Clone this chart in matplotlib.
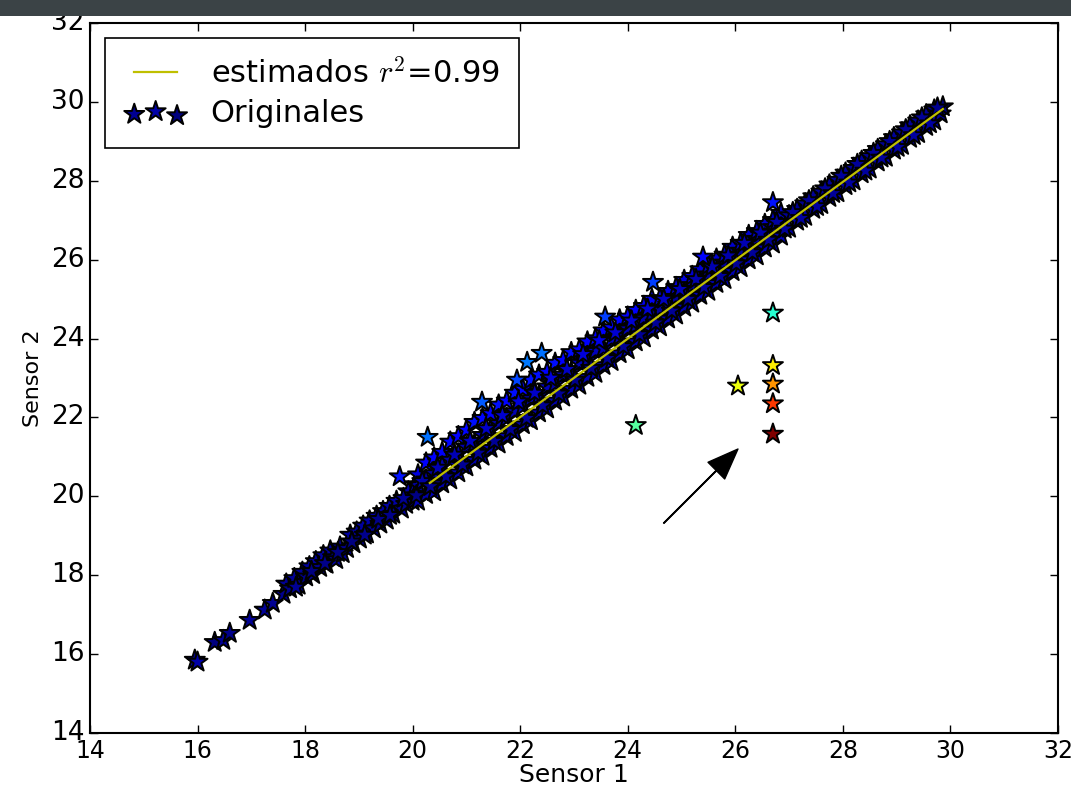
import numpy as np
import matplotlib
matplotlib.use("Agg")
from matplotlib import pyplot as plt
from matplotlib.patches import Rectangle

# lecturas de los dos sensores (mismo instante)
sensor_1 = [
    15.95, 16.00, 16.32, 16.48, 16.60, 16.97, 17.25, 17.40,
    17.60, 17.65, 17.72, 17.80, 17.88, 17.95, 18.02, 18.08, 18.15, 18.20,
    18.28, 18.34, 18.40, 18.47, 18.52, 18.58, 18.65, 18.70, 18.78, 18.84,
    18.90, 18.96, 19.02, 19.08, 19.15, 19.20, 19.28, 19.33, 19.40, 19.45,
    19.52, 19.57, 19.64, 19.70, 19.76, 19.80, 19.88, 19.92, 20.00, 20.05,
    20.10, 20.10, 20.10, 20.25, 20.25, 20.25, 20.40, 20.40, 20.40,
    20.55, 20.55, 20.55, 20.70, 20.70, 20.70, 20.85, 20.85, 20.85,
    21.00, 21.00, 21.00, 21.15, 21.15, 21.15, 21.30, 21.30, 21.30,
    21.45, 21.45, 21.45, 21.60, 21.60, 21.60, 21.75, 21.75, 21.75,
    21.90, 21.90, 21.90, 22.05, 22.05, 22.05, 22.20, 22.20, 22.20,
    22.35, 22.35, 22.35, 22.50, 22.50, 22.50, 22.65, 22.65, 22.65,
    22.80, 22.80, 22.80, 22.95, 22.95, 22.95, 23.10, 23.10, 23.10,
    23.25, 23.25, 23.25, 23.40, 23.40, 23.40, 23.55, 23.55, 23.55,
    23.70, 23.70, 23.70, 23.85, 23.85, 23.85, 24.00, 24.00, 24.00,
    24.15, 24.15, 24.15, 24.30, 24.30, 24.30, 24.45, 24.45, 24.45,
    24.60, 24.60, 24.60, 24.75, 24.75, 24.75, 24.90, 24.90, 24.90,
    25.05, 25.05, 25.05, 25.20, 25.20, 25.20, 25.35, 25.35, 25.35,
    25.50, 25.50, 25.50, 25.65, 25.65, 25.65, 25.80, 25.80, 25.80,
    25.95, 25.95, 25.95, 26.10, 26.10, 26.10, 26.25, 26.25, 26.25,
    26.40, 26.40, 26.40, 26.55, 26.55, 26.55, 26.70, 26.70, 26.70,
    26.85, 26.85, 26.85,
    27.00, 27.00, 27.15, 27.15, 27.30, 27.30, 27.45, 27.45, 27.60, 27.60,
    27.75, 27.75, 27.90, 27.90, 28.05, 28.05, 28.20, 28.20, 28.35, 28.35,
    28.50, 28.50, 28.65, 28.65, 28.80, 28.80, 28.95, 28.95, 29.10, 29.10,
    29.25, 29.25, 29.40, 29.40, 29.55, 29.55, 29.70, 29.70, 29.82, 29.86,
    17.83, 18.12, 18.37, 18.61, 18.87, 19.11, 19.36, 19.58, 19.83, 20.07,
    20.18, 20.33, 20.47, 20.62, 20.78, 20.93, 21.07, 21.22, 21.37, 21.52,
    21.67, 21.82, 21.97, 22.12, 22.27, 22.42, 22.57, 22.72, 22.87, 23.02,
    23.17, 23.32, 23.47, 23.62, 23.77, 23.92, 24.07, 24.22, 24.37, 24.52,
    24.67, 24.82, 24.97, 25.12, 25.27, 25.42, 25.57, 25.72, 25.87, 26.02,
    26.17, 26.32, 26.47, 26.62, 26.77, 26.92, 27.07, 27.22, 27.37, 27.52,
    27.67, 27.82, 27.97, 28.12, 28.27, 28.42, 28.57, 28.72, 28.87, 29.02,
    29.17, 29.32, 29.47, 29.62, 29.76,
    # lecturas sobre la banda
    20.28, 21.29, 21.94, 22.13, 22.40, 23.58, 24.47, 25.40, 26.70,
    # fallos del sensor 2
    24.15, 26.05, 26.70, 26.70, 26.70, 26.70, 26.70,
]
sensor_2 = [
    15.85, 15.80, 16.30, 16.35, 16.53, 16.86, 17.12, 17.29,
    17.52, 17.78, 17.66, 17.92, 17.75, 18.08, 17.96, 18.22, 18.02, 18.35,
    18.20, 18.50, 18.28, 18.62, 18.45, 18.40, 18.72, 18.55, 18.68, 19.02,
    18.80, 19.10, 18.92, 19.25, 19.05, 19.38, 19.18, 19.50, 19.30, 19.62,
    19.40, 19.75, 19.55, 19.88, 20.50, 19.68, 19.80, 20.12, 19.88, 20.30,
    19.88, 20.28, 20.55, 20.05, 20.42, 20.85, 20.12, 20.58, 20.98,
    20.32, 20.78, 21.12, 20.42, 20.92, 21.38, 20.60, 21.08, 21.52,
    20.75, 21.25, 21.68, 20.92, 21.32, 21.88, 21.02, 21.55, 21.98,
    21.22, 21.68, 22.10, 21.33, 21.85, 22.32, 21.52, 21.98, 22.42,
    21.62, 22.15, 22.62, 21.82, 22.28, 22.72, 21.92, 22.48, 22.95,
    22.12, 22.55, 23.08, 22.22, 22.78, 23.15, 22.42, 22.85, 23.38,
    22.52, 23.08, 23.45, 22.72, 23.15, 23.65, 22.82, 23.38, 23.72,
    23.02, 23.45, 23.92, 23.12, 23.68, 24.00, 23.32, 23.75, 24.20,
    23.42, 23.98, 24.28, 23.62, 24.05, 24.48, 23.72, 24.25, 24.55,
    23.92, 24.32, 24.72, 24.02, 24.52, 24.82, 24.22, 24.62, 25.00,
    24.30, 24.75, 25.02, 24.50, 24.85, 25.20, 24.60, 25.05, 25.30,
    24.80, 25.15, 25.48, 24.90, 25.35, 25.58, 25.10, 25.42, 25.75,
    25.20, 25.62, 25.85, 25.40, 25.72, 26.02, 25.50, 25.92, 26.12,
    25.70, 26.02, 26.32, 25.80, 26.22, 26.42, 26.00, 26.32, 26.62,
    26.10, 26.52, 26.72, 26.30, 26.60, 26.90, 26.40, 26.82, 27.00,
    26.60, 26.92, 27.18,
    26.80, 27.12, 26.98, 27.28, 27.10, 27.42, 27.28, 27.60, 27.40, 27.72,
    27.58, 27.90, 27.70, 28.02, 27.88, 28.20, 28.00, 28.32, 28.18, 28.50,
    28.30, 28.62, 28.48, 28.80, 28.60, 28.92, 28.78, 29.10, 28.90, 29.22,
    29.08, 29.40, 29.20, 29.52, 29.38, 29.68, 29.52, 29.80, 29.70, 29.88,
    17.70, 18.10, 18.30, 18.58, 18.85, 19.02, 19.42, 19.52, 19.95, 20.02,
    20.38, 20.25, 20.72, 20.50, 21.05, 20.80, 21.40, 21.10, 21.72, 21.40,
    22.05, 21.70, 22.40, 21.98, 22.62, 22.30, 23.00, 22.60, 23.22, 22.95,
    23.60, 23.25, 23.95, 23.50, 24.15, 23.80, 24.45, 24.10, 24.75, 24.40,
    25.00, 24.70, 25.25, 25.00, 25.50, 25.30, 25.82, 25.58, 26.10, 25.90,
    26.42, 26.18, 26.68, 26.50, 26.95, 26.78, 27.20, 27.05, 27.50, 27.35,
    27.80, 27.68, 28.12, 27.95, 28.42, 28.25, 28.70, 28.58, 29.00, 28.85,
    29.30, 29.15, 29.60, 29.45, 29.85,
    21.50, 22.39, 22.95, 23.40, 23.63, 24.55, 25.43, 26.07, 27.45,
    21.80, 22.80, 24.65, 23.32, 22.85, 22.35, 21.58,
]

# recta estimada (regresion)
x_est = [20.32, 29.86]
y_est = [20.34, 29.82]
r2 = 0.99

# flecha que señala los fallos
flecha_ini = (24.67, 19.32)
flecha_fin = (26.05, 21.20)

plt.style.use("classic")
plt.rcParams["font.family"] = ["DejaVu Sans"]

s1 = np.array(sensor_1)
s2 = np.array(sensor_2)
dif = np.abs(s2 - s1)

fig = plt.figure(figsize=(10.71, 7.94), dpi=100, facecolor="white")
ax = fig.add_axes([0.084, 0.0768, 0.9038, 0.8942])

ax.plot(x_est, y_est, color="y", linewidth=1.6, label="estimados $r^2$=%.2f" % r2)
ax.scatter(s1, s2, c=dif, cmap="jet", marker="*", s=230,
           edgecolors="black", linewidths=1.4, label="Originales")

ax.annotate("", xy=flecha_fin, xytext=flecha_ini,
            arrowprops=dict(facecolor="black", edgecolor="black", width=0.4,
                            headwidth=17, headlength=22, shrink=0.0))

ax.set_xlim(14, 32)
ax.set_ylim(14, 32)
ax.set_xticks(np.arange(14, 33, 2))
ax.set_yticks(np.arange(14, 33, 2))
ax.tick_params(length=6, width=1, direction="in")
ax.tick_params(axis="x", labelsize=17)
ax.tick_params(axis="y", labelsize=19)
ax.set_xlabel("Sensor 1", fontsize=18, labelpad=0)
ax.set_ylabel("Sensor 2", fontsize=16, labelpad=6)
for sp in ax.spines.values():
    sp.set_linewidth(1.5)

leg = ax.legend(loc="upper left", fontsize=22, scatterpoints=3,
                handlelength=2.0, labelspacing=0.33, borderpad=0.65,
                borderaxespad=0.5)
leg.get_frame().set_linewidth(1.2)

# barra oscura de la ventana
fig.patches.append(Rectangle((0, 0.98), 1, 0.02, transform=fig.transFigure,
                             facecolor="#3b4346", edgecolor="none", zorder=10))

fig.savefig("out.png", dpi=100, facecolor="white")
